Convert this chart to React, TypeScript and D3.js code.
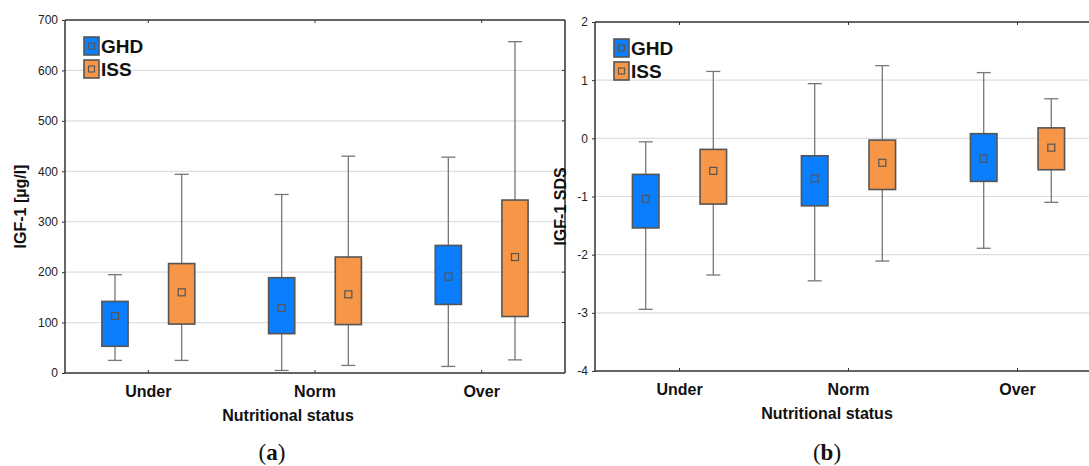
import React, { useRef, useEffect } from "react";
import { select, scaleLinear, scaleBand, axisLeft } from "d3";

const categories = ["Under", "Norm", "Over"];
const seriesNames = ["GHD", "ISS"];
const seriesColors = ["#0a7efc", "#f69646"];

// panel (a): IGF-1 [µg/l]
const igfTicks = [0, 100, 200, 300, 400, 500, 600, 700];
const igfGhdMin = [25, 5, 13];
const igfGhdQ1 = [53, 78, 136];
const igfGhdMean = [113, 129, 191];
const igfGhdQ3 = [142, 189, 253];
const igfGhdMax = [195, 354, 428];
const igfIssMin = [25, 15, 26];
const igfIssQ1 = [97, 96, 112];
const igfIssMean = [160, 156, 230];
const igfIssQ3 = [217, 230, 343];
const igfIssMax = [394, 430, 657];

// panel (b): IGF-1 SDS
const sdsTicks = [-4, -3, -2, -1, 0, 1, 2];
const sdsGhdMin = [-2.94, -2.45, -1.89];
const sdsGhdQ1 = [-1.54, -1.16, -0.74];
const sdsGhdMean = [-1.04, -0.69, -0.35];
const sdsGhdQ3 = [-0.62, -0.3, 0.08];
const sdsGhdMax = [-0.06, 0.94, 1.13];
const sdsIssMin = [-2.35, -2.11, -1.1];
const sdsIssQ1 = [-1.13, -0.88, -0.54];
const sdsIssMean = [-0.56, -0.42, -0.16];
const sdsIssQ3 = [-0.19, -0.03, 0.18];
const sdsIssMax = [1.15, 1.25, 0.68];

const SANS = "'Liberation Sans', Arial, Helvetica, sans-serif";

function toBoxes(min, q1, mean, q3, max) {
  return categories.map((c, i) => ({
    cat: c,
    min: min[i],
    q1: q1[i],
    mean: mean[i],
    q3: q3[i],
    max: max[i],
  }));
}

function Panel({ x0, x1, y0, y1, ticks, series, yTitle, yTitleX, xTitleX, caption, captionX, clipRight }) {
  const axisRef = useRef(null);

  const x = scaleBand().domain(categories).range([x0, x1]);
  const y = scaleLinear()
    .domain([ticks[0], ticks[ticks.length - 1]])
    .range([y1, y0]);
  const bw = x.bandwidth();
  const offsets = [-bw * 0.2, bw * 0.2];
  const boxW = bw * 0.157;
  const capW = 14;

  useEffect(() => {
    const g = select(axisRef.current);
    g.call(
      axisLeft(y)
        .tickValues(ticks)
        .tickSize(3)
        .tickPadding(4)
        .tickFormat((d) => String(d))
    );
    g.select(".domain").remove();
    g.selectAll(".tick line").attr("stroke", "#333");
    g.selectAll(".tick text")
      .attr("fill", "#222")
      .style("font-family", SANS)
      .style("font-size", "12px");
  }, [ticks]);

  const right = clipRight ? 1089 : x1;

  return (
    <g>
      {ticks.slice(1, -1).map((t) => (
        <line key={t} x1={x0} x2={x1} y1={y(t)} y2={y(t)} stroke="#dedede" strokeWidth={1.2} />
      ))}
      {!clipRight &&
        ticks.slice(1, -1).map((t) => (
          <line key={"r" + t} x1={x1 - 3} x2={x1} y1={y(t)} y2={y(t)} stroke="#333" />
        ))}
      {categories.map((c) => (
        <g key={c}>
          <line x1={x(c) + bw / 2} x2={x(c) + bw / 2} y1={y1} y2={y1 - 3} stroke="#333" />
          <line x1={x(c) + bw / 2} x2={x(c) + bw / 2} y1={y0} y2={y0 + 3} stroke="#333" />
        </g>
      ))}
      {series.map((s, si) =>
        s.map((d) => {
          const cx = x(d.cat) + bw / 2 + offsets[si];
          return (
            <g key={si + d.cat}>
              <line x1={cx} x2={cx} y1={y(d.max)} y2={y(d.q3)} stroke="#777" strokeWidth={1.3} />
              <line x1={cx} x2={cx} y1={y(d.q1)} y2={y(d.min)} stroke="#777" strokeWidth={1.3} />
              <line x1={cx - capW / 2} x2={cx + capW / 2} y1={y(d.max)} y2={y(d.max)} stroke="#777" strokeWidth={1.3} />
              <line x1={cx - capW / 2} x2={cx + capW / 2} y1={y(d.min)} y2={y(d.min)} stroke="#777" strokeWidth={1.3} />
              <rect
                x={cx - boxW / 2}
                y={y(d.q3)}
                width={boxW}
                height={y(d.q1) - y(d.q3)}
                fill={seriesColors[si]}
                stroke="#555"
                strokeWidth={1.6}
              />
              <rect x={cx - 3.5} y={y(d.mean) - 3.5} width={7} height={7} fill="none" stroke="#555" strokeWidth={1.2} />
            </g>
          );
        })
      )}
      {/* frame */}
      <line x1={x0} x2={x0} y1={y0} y2={y1} stroke="#333" strokeWidth={1.5} />
      <line x1={x0} x2={right} y1={y1} y2={y1} stroke="#333" strokeWidth={1.5} />
      <line x1={x0} x2={right} y1={y0} y2={y0} stroke="#333" strokeWidth={1.5} />
      {!clipRight && <line x1={x1} x2={x1} y1={y0} y2={y1} stroke="#333" strokeWidth={1.5} />}
      <g ref={axisRef} transform={`translate(${x0},0)`} />
      {/* legend */}
      {seriesNames.map((n, i) => {
        const lx = x0 + 19;
        const ly = y0 + 17 + i * 23;
        return (
          <g key={n}>
            <rect x={lx} y={ly} width={15} height={18} fill={seriesColors[i]} stroke="#555" strokeWidth={1.6} />
            <rect x={lx + 4.5} y={ly + 6} width={6} height={6} fill="none" stroke="#555" strokeWidth={1.1} />
            <text x={lx + 17} y={ly + 16} fontFamily={SANS} fontWeight="bold" fontSize={19} fill="#111">
              {n}
            </text>
          </g>
        );
      })}
      {categories.map((c) => (
        <text
          key={"l" + c}
          x={x(c) + bw / 2}
          y={y1 + 24}
          textAnchor="middle"
          fontFamily={SANS}
          fontWeight="bold"
          fontSize={16}
          fill="#111"
        >
          {c}
        </text>
      ))}
      <text x={xTitleX} y={y1 + 48} textAnchor="middle" fontFamily={SANS} fontWeight="bold" fontSize={16} fill="#111">
        Nutritional status
      </text>
      <text
        transform={`translate(${yTitleX},${(y0 + y1) / 2 + 10}) rotate(-90)`}
        textAnchor="middle"
        fontFamily={SANS}
        fontWeight="bold"
        fontSize={16}
        fill="#111"
      >
        {yTitle}
      </text>
      <text x={captionX} y={460} textAnchor="middle" fontFamily="'Liberation Serif', 'DejaVu Serif', serif" fontSize={23} fill="#111">
        (<tspan fontWeight="bold">{caption}</tspan>)
      </text>
    </g>
  );
}

export default function App() {
  const igfSeries = [
    toBoxes(igfGhdMin, igfGhdQ1, igfGhdMean, igfGhdQ3, igfGhdMax),
    toBoxes(igfIssMin, igfIssQ1, igfIssMean, igfIssQ3, igfIssMax),
  ];
  const sdsSeries = [
    toBoxes(sdsGhdMin, sdsGhdQ1, sdsGhdMean, sdsGhdQ3, sdsGhdMax),
    toBoxes(sdsIssMin, sdsIssQ1, sdsIssMean, sdsIssQ3, sdsIssMax),
  ];
  return (
    <svg
      width={1089}
      height={466}
      style={{ position: "absolute", left: 0, top: 0, background: "#fff" }}
    >
      <Panel
        x0={65}
        x1={565}
        y0={20}
        y1={373}
        ticks={igfTicks}
        series={igfSeries}
        yTitle="IGF-1 [µg/l]"
        yTitleX={26}
        xTitleX={288}
        caption="a"
        captionX={272}
      />
      <Panel
        x0={595}
        x1={1102}
        y0={22}
        y1={371}
        ticks={sdsTicks}
        series={sdsSeries}
        yTitle="IGF-1 SDS"
        yTitleX={566}
        xTitleX={827}
        caption="b"
        captionX={827}
        clipRight
      />
    </svg>
  );
}
